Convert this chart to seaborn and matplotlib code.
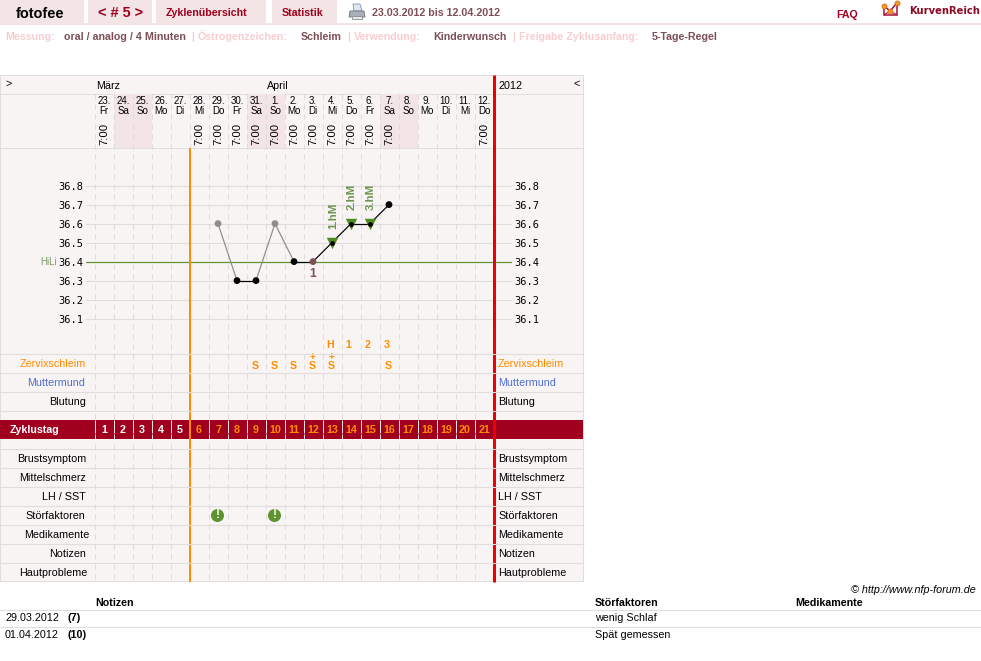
import matplotlib
matplotlib.use("Agg")
import matplotlib.pyplot as plt
from matplotlib.patches import Rectangle, Polygon
import pandas as pd
import seaborn as sns

# ---- cycle data -------------------------------------------------------
cycle_days = list(range(1, 22))
date_labels = ["23.", "24.", "25.", "26.", "27.", "28.", "29.", "30.", "31.", "1.", "2.",
               "3.", "4.", "5.", "6.", "7.", "8.", "9.", "10.", "11.", "12."]
weekdays = ["Fr", "Sa", "So", "Mo", "Di", "Mi", "Do", "Fr", "Sa", "So", "Mo",
            "Di", "Mi", "Do", "Fr", "Sa", "So", "Mo", "Di", "Mi", "Do"]
weekend_days = [2, 3, 9, 10, 16, 17]
time_days = [1, 6, 7, 8, 9, 10, 11, 12, 13, 14, 15, 16, 21]

temp_days = [7, 8, 9, 10, 11, 12, 13, 14, 15, 16]
temps = [36.6, 36.3, 36.3, 36.6, 36.4, 36.4, 36.5, 36.6, 36.6, 36.7]
temp_kinds = ["excluded", "normal", "normal", "excluded", "normal", "first", "high", "high", "high", "normal"]
high_days = [13, 14, 15]
high_temps = [36.5, 36.6, 36.6]
high_labels = ["1.hM", "2.hM", "3.hM"]
temp_ticks = [36.1, 36.2, 36.3, 36.4, 36.5, 36.6, 36.7, 36.8]
cover_line = 36.4

count_days = [13, 14, 15, 16]
count_labels = ["H", "1", "2", "3"]
mucus_days = [9, 10, 11, 12, 13, 16]
mucus_plus = [12, 13]
disturb_days = [7, 10]

upper_rows = ["Zervixschleim", "Muttermund", "Blutung"]
lower_rows = ["Brustsymptom", "Mittelschmerz", "LH / SST", "Störfaktoren", "Medikamente", "Notizen", "Hautprobleme"]

note_dates = ["29.03.2012", "01.04.2012"]
note_cycle = ["(7)", "(10)"]
note_factors = ["wenig Schlaf", "Spät gemessen"]

# ---- colours ----------------------------------------------------------
PANEL = "#f9f4f4"
TAB = "#f3e4e6"
RULE = "#e0dddd"
DASH = "#dddada"
WINE = "#a0001e"
BROWN = "#7d5056"
PINK = "#f8cdd0"
ORANGE = "#ff8c00"
RED = "#ee0000"
GREEN = "#5f9230"
BLUE = "#4f6fd0"

sns.set_theme(style="white")
plt.rcParams["font.family"] = ["Liberation Sans", "DejaVu Sans"]
plt.rcParams["axes.unicode_minus"] = False

W, H = 981, 661
PT = 0.72
fig = plt.figure(figsize=(W / 100, H / 100), dpi=100, facecolor="white")


def px_rect(x0, y0, x1, y1):
    return [x0 / W, 1 - y1 / H, (x1 - x0) / W, (y1 - y0) / H]


def day_at(px):
    return (px - 104) / 19 + 1


def bare_axes(rect, z):
    ax = fig.add_axes(rect, zorder=z)
    ax.patch.set_alpha(0)
    ax.set_axis_off()
    return ax


# pixel-addressed page furniture, underneath and on top of the chart
chrome = bare_axes([0, 0, 1, 1], 0)
labels = bare_axes([0, 0, 1, 1], 4)
for a in (chrome, labels):
    a.set_xlim(0, W)
    a.set_ylim(H, 0)

# day-addressed layers: x is the cycle day, y stays in rows of the page
back = bare_axes([0, 0, 1, 1], 1)
front = bare_axes([0, 0, 1, 1], 3)
for a in (back, front):
    a.set_xlim(day_at(0), day_at(W))
    a.set_ylim(H, 0)


def put(x, y, s, size=11, color="black", weight="normal", ha="left", ax=labels, **kw):
    # y is the optical middle of the line; set on the baseline so that
    # accents and descenders do not move a label up or down
    drawn = size * (0.965 if weight == "bold" else 0.975)
    if "rotation" in kw:
        ax.text(x, y, s, fontsize=drawn * PT, color=color, fontweight=weight, ha=ha, va="center", **kw)
    else:
        ax.text(x, y + 0.32 * size, s, fontsize=drawn * PT, color=color, fontweight=weight, ha=ha,
                va="baseline", **kw)


# ---- header -----------------------------------------------------------
for x0, x1 in [(0, 84), (88, 152), (156, 266), (272, 337)]:
    chrome.add_patch(Rectangle((x0, 0), x1 - x0, 23, fc=TAB, lw=0))
chrome.add_patch(Rectangle((0, 23), W, 2, fc=TAB, lw=0))

put(16, 13, "fotofee", 15, "black", "bold")
put(98, 12.5, "< # 5 >", 15, WINE, "bold")
put(166, 12.5, "Zyklenübersicht", 11, WINE, "bold")
put(282, 12.5, "Statistik", 11, WINE, "bold")
put(372, 12.5, "23.03.2012 bis 12.04.2012", 11, BROWN, "bold")
put(836, 14.5, "FAQ", 11, WINE, "bold")
put(909, 10.5, "KurvenReich", 10.4, "#8c0a24", "bold", family="DejaVu Sans")

# printer icon
chrome.add_patch(Polygon([(353, 4), (360, 4), (362, 11), (354, 11)], fc="#dfe6f2", ec="#7f93b8", lw=0.6))
chrome.add_patch(Polygon([(350, 11), (364, 11), (365, 17), (349, 17)], fc="#aab0b6", ec="#6e7378", lw=0.6))
chrome.add_patch(Rectangle((352, 16), 10, 3, fc="#e4e6e8", ec="#8b8f93", lw=0.6))

# logo: little crown with three dots
chrome.plot([884, 890, 897, 897, 884, 884], [6, 11, 3, 15, 15, 6], color="#a8123a", lw=1.1, solid_joinstyle="round")
chrome.plot([884, 890, 897], [15, 11, 15], color="#a8123a", lw=0.8)
chrome.scatter([884, 890, 897], [6, 11, 3], s=14, color="#f39a1e", edgecolors="#c8551a", linewidths=0.4, zorder=3)

# settings line
for x, s, c in [(5, "Messung:", PINK), (64, "oral / analog / 4 Minuten", BROWN), (191, "|", PINK),
                (198, "Östrogenzeichen:", PINK), (301, "Schleim", BROWN), (347, "|", PINK),
                (354, "Verwendung:", PINK), (433, "Kinderwunsch", BROWN), (512, "|", PINK),
                (519, "Freigabe Zyklusanfang:", PINK), (652, "5-Tage-Regel", BROWN)]:
    put(x, 36, s, 11, c, "bold")

# ---- panel frame ------------------------------------------------------
chrome.add_patch(Rectangle((0, 75), 583.5, 507, fc=PANEL, ec="none"))
for y0, y1 in [(75, 76), (581, 582)]:
    chrome.add_patch(Rectangle((0, y0), 584, y1 - y0, fc=RULE, lw=0))
chrome.add_patch(Rectangle((0, 75), 1, 507, fc=RULE, lw=0))
chrome.add_patch(Rectangle((583, 75), 1, 507, fc=RULE, lw=0))
chrome.hlines([93.5, 147.5], 0, 584, color=RULE, lw=PT)

for d in weekend_days:
    back.add_patch(Rectangle((d - 0.5, 93.5), 1, 54, fc=TAB, lw=0))

boundaries = [d - 0.5 for d in cycle_days]
back.vlines(boundaries, 94, 581, color=DASH, lw=PT, linestyles=(0, (5, 5)))

band = Rectangle((0, 420), 583, 19, fc=WINE, lw=0, zorder=3)
chrome.add_patch(band)
back.vlines(boundaries, 420, 439, color="#f0e4e6", lw=PT, linestyles=(0, (5, 3)))

# ---- temperature curve ------------------------------------------------
temp_ax = fig.add_axes(px_rect(85.5, 148, 512, 353), zorder=2)
temp_ax.patch.set_alpha(0)
temp_ax.set_xlim(day_at(85.5), day_at(512))
temp_ax.set_ylim(36.4 + (261.6 - 353) / 190, 36.4 + (261.6 - 148) / 190)
for sp in temp_ax.spines.values():
    sp.set_visible(False)
temp_ax.set_xticks([])
temp_ax.set_yticks(temp_ticks)
temp_ax.set_yticklabels([f"{t:.1f}" for t in temp_ticks], family="DejaVu Sans Mono")
temp_ax.tick_params(axis="y", length=0, pad=1.4, labelsize=10.4 * PT, labelcolor="black",
                    left=False, right=False, labelleft=True, labelright=True)
temp_ax.grid(axis="y", color=RULE, lw=PT * 1.1)
temp_ax.grid(axis="x", visible=False)
temp_ax.set_axisbelow(True)
temp_ax.axhline(cover_line, color=GREEN, lw=PT * 1.2, zorder=1.5)

segments = []
for i in range(len(temp_days) - 1):
    kind = "faded" if "excluded" in temp_kinds[i:i + 2] else "solid"
    segments.append(dict(seg=i, day=temp_days[i], temp=temps[i], kind=kind))
    segments.append(dict(seg=i, day=temp_days[i + 1], temp=temps[i + 1], kind=kind))
sns.lineplot(data=pd.DataFrame(segments), x="day", y="temp", hue="kind", units="seg", estimator=None,
             palette={"faded": "#8c8c8c", "solid": "black"}, lw=PT * 1.2, legend=False, ax=temp_ax, zorder=3)

sns.scatterplot(x=high_days, y=high_temps, marker="v", s=68, color="#4f8a22", linewidth=0,
                legend=False, ax=temp_ax, zorder=4)
curve = pd.DataFrame(dict(day=temp_days, temp=temps, kind=temp_kinds))
plain = curve[curve["kind"] != "high"]
raised = curve[curve["kind"] == "high"]
sns.scatterplot(data=plain, x="day", y="temp", hue="kind",
                palette={"excluded": "#8e8e8e", "normal": "black", "first": "#7d5056"},
                s=24, linewidth=0, legend=False, ax=temp_ax, zorder=5)
sns.scatterplot(data=raised, x="day", y="temp", color="black", s=12, linewidth=0, legend=False, ax=temp_ax, zorder=5)
temp_ax.set_xlabel("")
temp_ax.set_ylabel("")

for d, t, s in zip(high_days, high_temps, high_labels):
    temp_ax.annotate(s, (d, t), xytext=(0.7, 10), textcoords="offset points", rotation=90,
                     ha="center", va="bottom", fontsize=11.5 * PT, fontweight="bold", color="#6d9450")
temp_ax.annotate("1", (12, cover_line), xytext=(0, -9), textcoords="offset points", ha="center", va="center",
                 fontsize=12 * PT, fontweight="bold", color=BROWN)

put(40, 262, "HiLi", 10, "#7f9c6c")

# ---- day header -------------------------------------------------------
put(96, 85, "März", 11)
put(267, 85, "April", 11)
put(498, 85, "2012", 11)
put(5, 83, ">", 11)
put(573, 83, "<", 11)

for d, dl, wd in zip(cycle_days, date_labels, weekdays):
    put(d, 101, dl, 10, ha="center", ax=front)
    put(d, 111, wd, 10, ha="center", ax=front)
for d in time_days:
    put(d, 134, "7:00", 11.5, ha="center", ax=front, rotation=90)

# ---- marker lines and row rules ---------------------------------------
front.vlines(5.5, 148, 582, color=ORANGE, lw=2 * PT, zorder=2)
front.vlines(21.5, 75, 582, color=RED, lw=3 * PT, zorder=2)
row_rules = [353.5, 372.5, 391.5, 410.5, 448.5, 467.5, 486.5, 505.5, 524.5, 543.5, 562.5]
labels.hlines(row_rules, 0, 584, color=RULE, lw=PT * 1.1, zorder=1)

# ---- rows -------------------------------------------------------------
up_y = [363, 382, 401]
up_col = [ORANGE, BLUE, "black"]
for y, s, c in zip(up_y, upper_rows, up_col):
    put(85.5, y, s, 11, c, ha="right")
    put(498, y, s, 11, c)

low_y = [458, 477, 496, 515, 534, 553, 572]
low_end = [86, 86, 86, 85, 89, 86, 87]
for y, s, xe in zip(low_y, lower_rows, low_end):
    put(xe, y, s, 11, ha="right")
    put(498, y, s, 11)

for d, s in zip(count_days, count_labels):
    put(d - 0.12, 344, s, 11, ORANGE, "bold", ha="center", ax=front)
for d in mucus_days:
    put(d - 0.02, 365.5, "S", 11, ORANGE, "bold", ha="center", ax=front)
for d in mucus_plus:
    put(d - 0.02, 357, "+", 10, ORANGE, "bold", ha="center", ax=front)

put(10, 429, "Zyklustag", 11, "white", "bold")
for d in cycle_days:
    put(d, 429, str(d), 11, "white" if d <= 5 else ORANGE, "bold", ha="center", ax=front)

sns.scatterplot(x=[d - 0.03 for d in disturb_days], y=[514.5] * len(disturb_days), s=88, color=GREEN, linewidth=0,
                legend=False, ax=front, zorder=4)
front.set_xlabel("")
front.set_ylabel("")
front.set_xlim(day_at(0), day_at(W))
front.set_ylim(H, 0)
for d in disturb_days:
    put(d - 0.03, 514.5, "!", 12, "white", "bold", ha="center", ax=front, zorder=5)

# ---- notes table ------------------------------------------------------
put(976, 589, "© http://www.nfp-forum.de", 11, ha="right", style="italic")
put(95, 602, "Notizen", 11, weight="bold")
put(595, 602, "Störfaktoren", 11, weight="bold")
put(795, 602, "Medikamente", 11, weight="bold")
chrome.hlines([609.5, 626.5], 0, W, color=RULE, lw=PT * 1.1)
for y, dt, cy, fac in zip([617, 634], note_dates, note_cycle, note_factors):
    put(5, y, dt, 11)
    put(68, y, cy, 11, weight="bold")
    put(595, y, fac, 11)

fig.savefig("out.png", dpi=100, facecolor="white")
